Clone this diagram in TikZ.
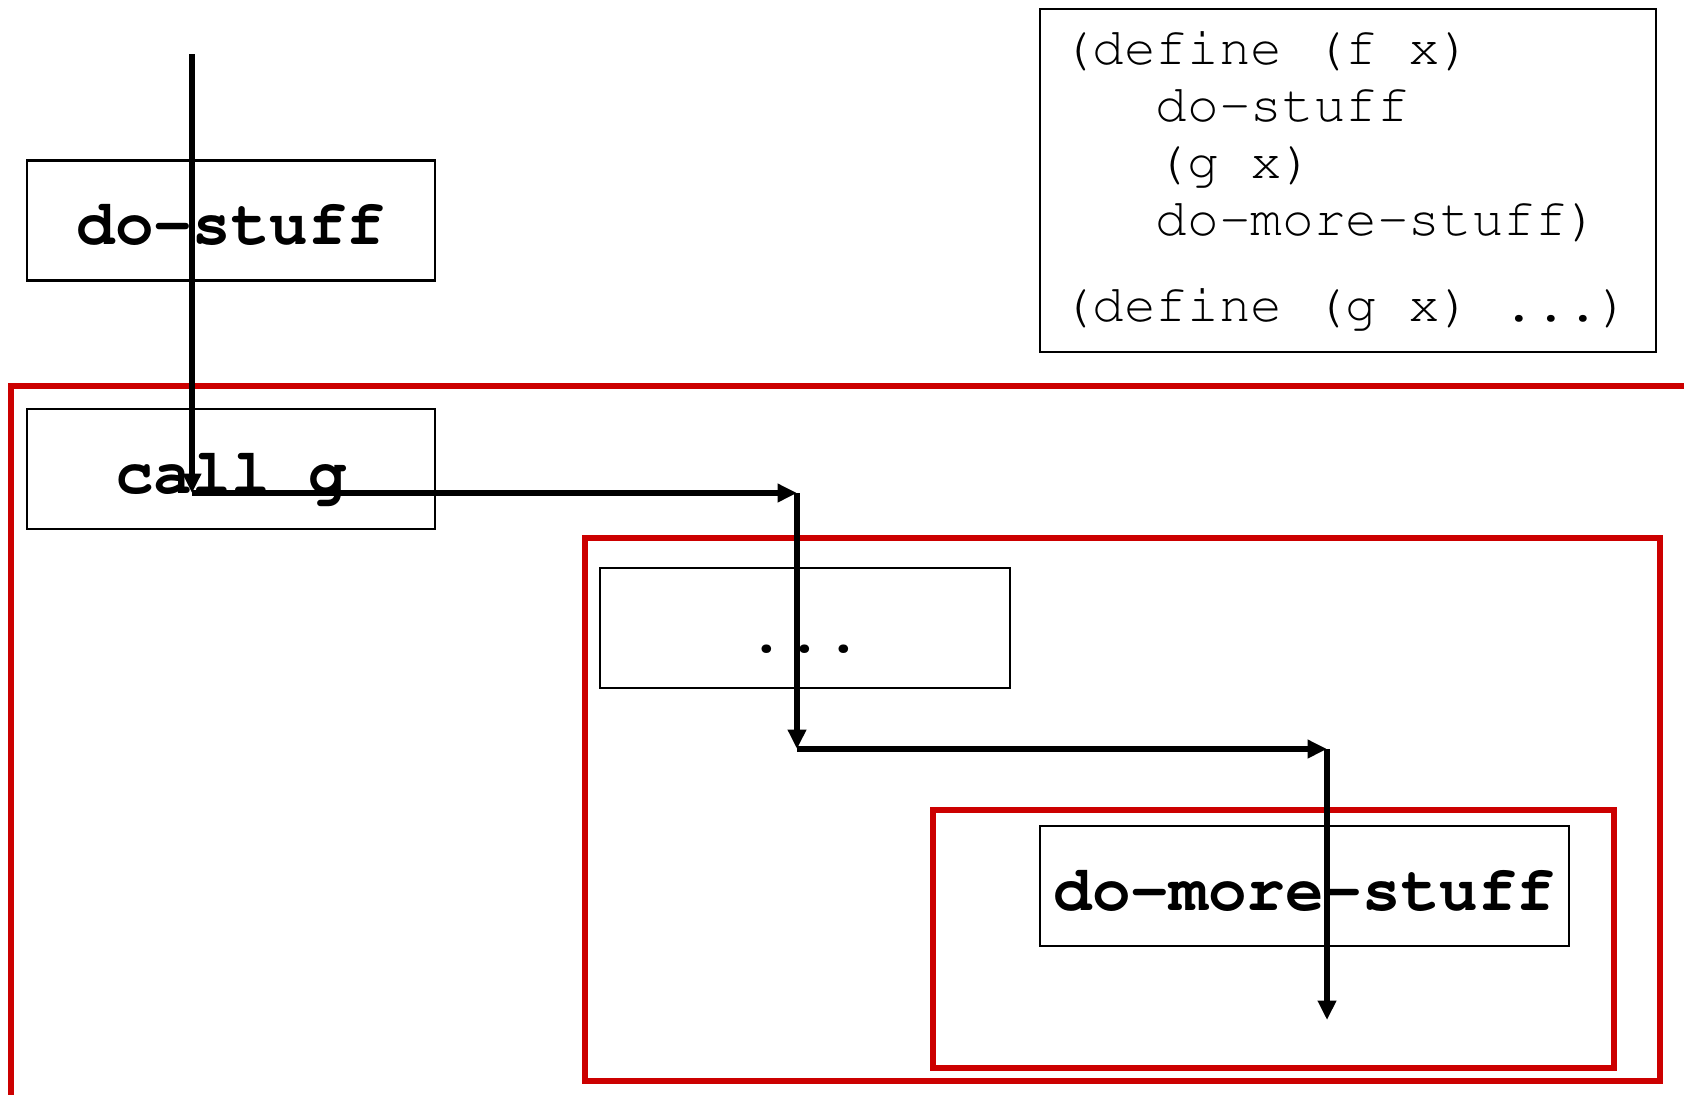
\documentclass[tikz,border=0pt]{standalone}
\usepackage[T1]{fontenc}
\renewcommand{\ttdefault}{pcr}
\usetikzlibrary{arrows.meta}
\definecolor{framered}{RGB}{204,0,0}

\begin{document}
\begin{tikzpicture}[>={Triangle[length=5.5pt,width=5pt]}]
\tikzstyle{block}=[rectangle,draw=black,line width=0.7pt,minimum height=1.2cm,text height=0.6cm,text depth=0.12cm,font=\ttfamily\bfseries\fontsize{18.3}{20}\selectfont]
\tikzstyle{frame}=[draw=framered,line width=1.8pt]
\tikzstyle{flow}=[line width=1.6pt,->]
\useasboundingbox (0,0) rectangle (16.84,-10.94);

% nested call frames
\draw[frame] (0.11,-3.86) rectangle (17.3,-11.4);
\draw[frame] (5.85,-5.38) rectangle (16.6,-10.81);
\draw[frame] (9.33,-8.10) rectangle (16.14,-10.68);

\node[block,minimum width=4.08cm] (dostuff) at (2.31,-2.205) {do-stuff};
\node[block,minimum width=4.08cm] (callg) at (2.31,-4.69) {call g};
\node[block,minimum width=4.10cm] (dots) at (8.05,-6.28) {...};
\node[block,minimum width=5.29cm] (domore) at (13.045,-8.86) {do-more-stuff};

\node[draw,line width=0.7pt,align=flush left,text width=5.74cm,inner xsep=0.21cm,minimum height=3.43cm,font=\ttfamily\fontsize{15}{16.2}\selectfont] (code) at (13.48,-1.805)
{(define (f x)\\
\hspace*{1.8em}do-stuff\\
\hspace*{1.8em}(g x)\\
\hspace*{1.8em}do-more-stuff)\\[0.29cm]
(define (g x) ...)};

\coordinate (start) at (1.92,-0.54);
\coordinate (c1) at (1.92,-4.93);
\coordinate (c2) at (7.97,-4.93);
\coordinate (c3) at (7.97,-7.49);
\coordinate (c4) at (13.27,-7.49);
\coordinate (c5) at (13.27,-10.20);

\draw[flow] (start) -- (c1);
\draw[flow] (c1) -- (c2);
\draw[flow] (c2) -- (c3);
\draw[flow] (c3) -- (c4);
\draw[flow] (c4) -- (c5);
\end{tikzpicture}
\end{document}
